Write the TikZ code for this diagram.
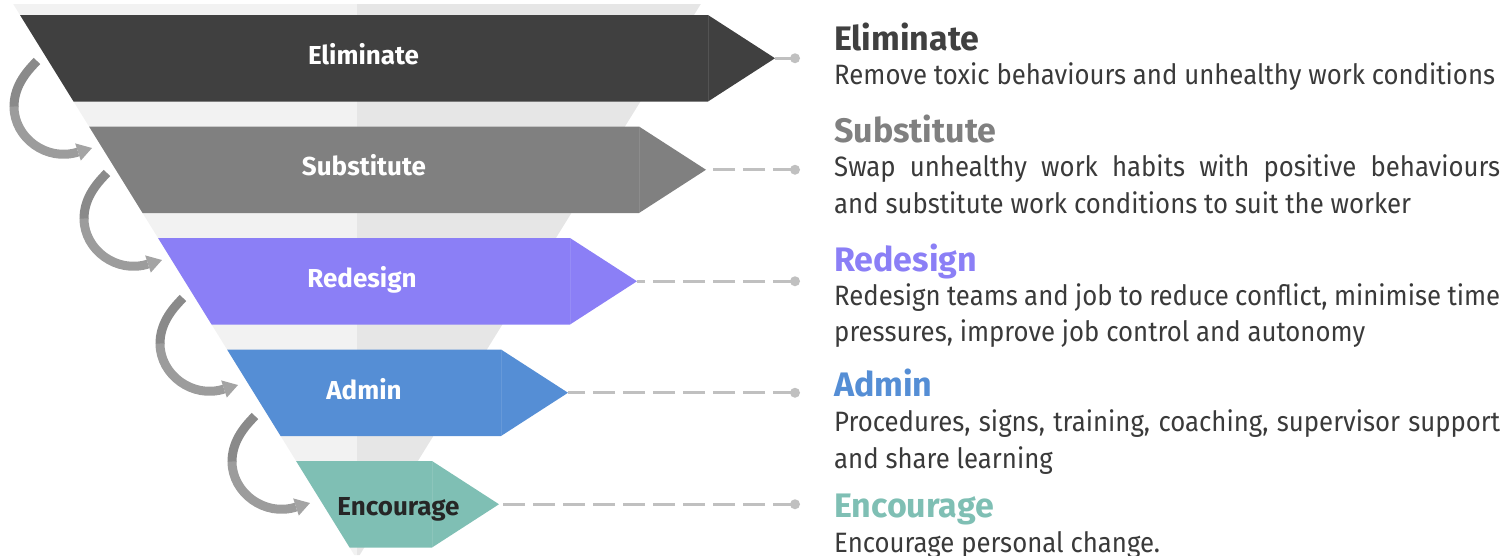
\documentclass[tikz,border=0pt]{standalone}
\usepackage{fontspec}
\setmainfont{Fira Sans}
\newfontfamily\descfont{Fira Sans}[FakeStretch=0.92]
\definecolor{cElim}{HTML}{404040}
\definecolor{cSub}{HTML}{808080}
\definecolor{cRed}{HTML}{8B7FF6}
\definecolor{cAdm}{HTML}{558ED5}
\definecolor{cEnc}{HTML}{7FBFB4}
\definecolor{funL}{HTML}{F2F2F2}
\definecolor{funR}{HTML}{E6E6E6}
\definecolor{conn}{HTML}{C0C0C0}
\definecolor{txt}{HTML}{3A3A3A}
\definecolor{arrA}{HTML}{8A8A8A}
\definecolor{arrB}{HTML}{A4A4A4}
\begin{document}
\begin{tikzpicture}[x=1pt,y=-1pt,
  bandlabel/.style={font=\fontsize{26}{30}\selectfont\bfseries, text=white, anchor=base, inner sep=0pt},
  title/.style={font=\fontsize{34}{38}\selectfont\bfseries, anchor=base west, inner sep=0pt},
  desc/.style={font=\descfont\fontsize{28}{34}\selectfont, text=txt, anchor=base west, inner sep=0pt},
  dotmark/.style={circle, fill=conn, inner sep=0pt, minimum size=10pt},
  connector/.style={draw=conn, line width=3pt, dash pattern=on 22pt off 8pt},
  arrowstroke/.style={line width=9pt}
]
\useasboundingbox (0,0) rectangle (1509,555);
% background funnel
\fill[funL] (13.2,4) -- (357,4) -- (357,555) -- (354.3,555) -- cycle;
\fill[funR] (357,4) -- (700.8,4) -- (359.7,555) -- (357,555) -- cycle;
% curved arrows
\foreach \tx/\ty in {92/148, 162/260, 238/385, 310/503}{
  \begin{scope}[shift={(\tx,\ty)}]
    \draw[arrowstroke, arrA] (-55,-87) .. controls (-68,-74) and (-78,-60) .. (-78,-41);
    \draw[arrowstroke, arrB!70!arrA] (-78,-41.5) .. controls (-78,-10) and (-45,14) .. (-14,4);
    \fill[arrB] (-11.2,12.6) -- (0,0) -- (-16.8,-4.6) -- cycle;
  \end{scope}
}
% bands
\foreach \k/\col/\nm in {0/cElim/elim, 1/cSub/sub, 2/cRed/red, 3/cAdm/adm, 4/cEnc/enc}{
  \pgfmathsetmacro\yt{15+111.5*\k}
  \pgfmathsetmacro\yb{\yt+86.5}
  \pgfmathsetmacro\ym{\yt+43.25}
  \pgfmathsetmacro\xlt{20+0.619*(\yt-15)}
  \pgfmathsetmacro\xlb{20+0.619*(\yb-15)}
  \pgfmathsetmacro\xr{708-69*\k}
  \pgfmathsetmacro\xt{\xr+67}
  \fill[\col] (\xlt,\yt) -- (\xr,\yt) -- (\xt,\ym) -- (\xr,\yb) -- (\xlb,\yb) -- cycle;
  \draw[white, opacity=0.10, line width=0.8pt] (\xr,\yt) -- (\xr,\yb);
  \coordinate (tip-\nm) at (\xt,\ym);
  \node[dotmark] (dot-\nm) at (795,\ym) {};
  \draw[connector] (dot-\nm.center) -- (tip-\nm);
}
% band labels
\node[bandlabel] (lab-elim) at (363.5,64.5) {Eliminate};
\node[bandlabel] (lab-sub) at (364,175) {Substitute};
\node[bandlabel] (lab-red) at (362,287) {Redesign};
\node[bandlabel] (lab-adm) at (364,399) {Admin};
\node[bandlabel, text=black!85] (lab-enc) at (398.5,515) {Encourage};
% right side texts
\node[title, text=cElim] (t-elim) at (834,50) {Eliminate};
\node[desc] (d-elim) at (834,84) {Remove toxic behaviours and unhealthy work conditions};
\node[title, text=cSub] (t-sub) at (834,142) {Substitute};
\node[desc] (d-sub1) at (834,176) {\makebox[666pt][s]{Swap unhealthy work habits with positive behaviours}};
\node[desc] (d-sub2) at (834,213) {and substitute work conditions to suit the worker};
\node[title, text=cRed] (t-red) at (834,271) {Redesign};
\node[desc] (d-red1) at (834,305) {\makebox[666pt][s]{Redesign teams and job to reduce conflict, minimise time}};
\node[desc] (d-red2) at (834,341) {pressures, improve job control and autonomy};
\node[title, text=cAdm] (t-adm) at (834,396) {Admin};
\node[desc] (d-adm1) at (834,431) {\makebox[666pt][s]{Procedures, signs, training, coaching, supervisor support}};
\node[desc] (d-adm2) at (834,468) {and share learning};
\node[title, text=cEnc] (t-enc) at (834,517) {Encourage};
\node[desc] (d-enc) at (834,552) {Encourage personal change.};
\end{tikzpicture}
\end{document}
